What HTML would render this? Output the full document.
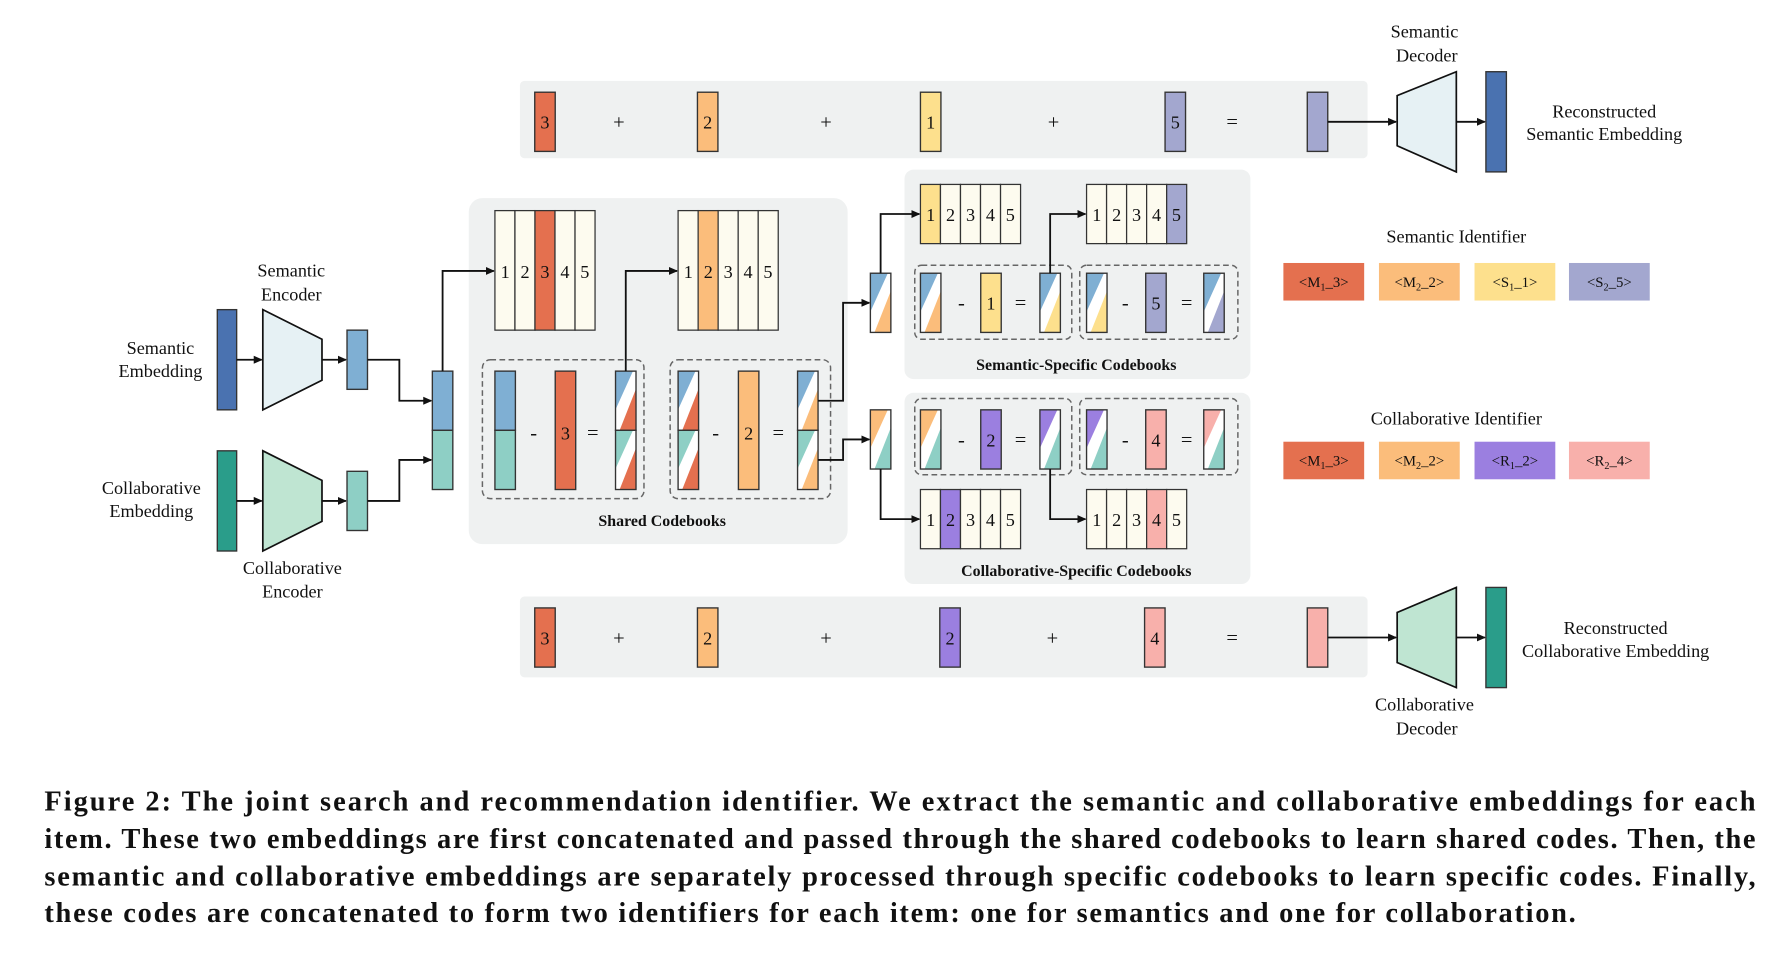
<!DOCTYPE html>
<html><head><meta charset="utf-8"><style>
html,body{margin:0;padding:0;background:#fff;}
svg{display:block;}
text{font-family:"Liberation Serif",serif;fill:#111;}
.l{font-size:16px;text-anchor:middle;}
.n{font-size:16px;text-anchor:middle;}
.b{font-size:14px;font-weight:bold;text-anchor:middle;}
.id{font-size:13px;text-anchor:middle;}
.op{font-size:18px;text-anchor:middle;}
.cap{font-size:25px;font-weight:bold;}
</style></head><body>
<svg id="s" width="1784" height="954" viewBox="0 0 1568 838" preserveAspectRatio="none" xmlns="http://www.w3.org/2000/svg">
<defs><marker id="ar" markerWidth="8" markerHeight="8" refX="7" refY="4" orient="auto" markerUnits="userSpaceOnUse"><path d="M0,0.5 L8,4 L0,7.5 z" fill="#111"/></marker></defs>
<g id="bg">
<rect x="457" y="71" width="745" height="68" rx="4" fill="#eff1f1"/>
<rect x="457" y="524" width="745" height="71" rx="4" fill="#eff1f1"/>
<rect x="412" y="174" width="333" height="304" rx="12" fill="#eff1f1"/>
<rect x="795" y="149" width="304" height="184" rx="8" fill="#eff1f1"/>
<rect x="795" y="345" width="304" height="168" rx="8" fill="#eff1f1"/>
<g fill="none" stroke="#666" stroke-width="1.3" stroke-dasharray="5,3">
<rect x="424" y="316" width="142" height="122" rx="7"/>
<rect x="589" y="316" width="141" height="122" rx="7"/>
<rect x="804" y="233" width="138" height="65" rx="6"/>
<rect x="949" y="233" width="139" height="65" rx="6"/>
<rect x="804" y="350" width="138" height="67" rx="6"/>
<rect x="949" y="350" width="139" height="67" rx="6"/>
</g>
</g>
<g id="g"></g>
<g id="t">
<text class="l" x="141" y="311">Semantic</text><text class="l" x="141" y="331">Embedding</text>
<text class="l" x="256" y="243">Semantic</text><text class="l" x="256" y="264">Encoder</text>
<text class="l" x="133" y="434">Collaborative</text><text class="l" x="133" y="454">Embedding</text>
<text class="l" x="257" y="504">Collaborative</text><text class="l" x="257" y="525">Encoder</text>
<text class="l" x="1252" y="33">Semantic</text><text class="l" x="1254" y="54">Decoder</text>
<text class="l" x="1410" y="103">Reconstructed</text><text class="l" x="1410" y="123">Semantic Embedding</text>
<text class="l" x="1252" y="624">Collaborative</text><text class="l" x="1254" y="645">Decoder</text>
<text class="l" x="1420" y="557">Reconstructed</text><text class="l" x="1420" y="577">Collaborative Embedding</text>
<text class="b" x="582" y="462">Shared Codebooks</text>
<text class="b" x="946" y="325">Semantic-Specific Codebooks</text>
<text class="b" x="946" y="506">Collaborative-Specific Codebooks</text>
<text class="l" x="1280" y="213">Semantic Identifier</text>
<text class="l" x="1280" y="373">Collaborative Identifier</text>
<text class="n" x="479" y="113">3</text><text class="op" x="544" y="113">+</text>
<text class="n" x="622" y="113">2</text><text class="op" x="726" y="113">+</text>
<text class="n" x="818" y="113">1</text><text class="op" x="926" y="113">+</text>
<text class="n" x="1033" y="113">5</text><text class="op" x="1083" y="113">=</text>
<text class="n" x="479" y="566">3</text><text class="op" x="544" y="566">+</text>
<text class="n" x="622" y="566">2</text><text class="op" x="726" y="566">+</text>
<text class="n" x="835" y="566">2</text><text class="op" x="925" y="566">+</text>
<text class="n" x="1015" y="566">4</text><text class="op" x="1083" y="566">=</text>
<text class="n" x="444" y="244">1</text><text class="n" x="461.5" y="244">2</text><text class="n" x="479" y="244">3</text><text class="n" x="496.5" y="244">4</text><text class="n" x="514" y="244">5</text>
<text class="n" x="605" y="244">1</text><text class="n" x="622.5" y="244">2</text><text class="n" x="640" y="244">3</text><text class="n" x="657.5" y="244">4</text><text class="n" x="675" y="244">5</text>
<text class="n" x="818" y="194">1</text><text class="n" x="835.5" y="194">2</text><text class="n" x="853" y="194">3</text><text class="n" x="870.5" y="194">4</text><text class="n" x="888" y="194">5</text>
<text class="n" x="964" y="194">1</text><text class="n" x="981.5" y="194">2</text><text class="n" x="999" y="194">3</text><text class="n" x="1016.5" y="194">4</text><text class="n" x="1034" y="194">5</text>
<text class="n" x="818" y="462">1</text><text class="n" x="835.5" y="462">2</text><text class="n" x="853" y="462">3</text><text class="n" x="870.5" y="462">4</text><text class="n" x="888" y="462">5</text>
<text class="n" x="964" y="462">1</text><text class="n" x="981.5" y="462">2</text><text class="n" x="999" y="462">3</text><text class="n" x="1016.5" y="462">4</text><text class="n" x="1034" y="462">5</text>
<text class="op" x="469" y="386">-</text><text class="n" x="497" y="386">3</text><text class="op" x="521" y="386">=</text>
<text class="op" x="629" y="386">-</text><text class="n" x="658" y="386">2</text><text class="op" x="684" y="386">=</text>
<text class="op" x="845" y="272">-</text><text class="n" x="871" y="272">1</text><text class="op" x="897" y="272">=</text>
<text class="op" x="989" y="272">-</text><text class="n" x="1016" y="272">5</text><text class="op" x="1043" y="272">=</text>
<text class="op" x="845" y="392">-</text><text class="n" x="871" y="392">2</text><text class="op" x="897" y="392">=</text>
<text class="op" x="989" y="392">-</text><text class="n" x="1016" y="392">4</text><text class="op" x="1043" y="392">=</text>
<text class="id" x="1163.5" y="252">&lt;M<tspan font-size="9" dy="3">1</tspan><tspan dy="-3">_3&gt;</tspan></text>
<text class="id" x="1247.5" y="252">&lt;M<tspan font-size="9" dy="3">2</tspan><tspan dy="-3">_2&gt;</tspan></text>
<text class="id" x="1331.5" y="252">&lt;S<tspan font-size="9" dy="3">1</tspan><tspan dy="-3">_1&gt;</tspan></text>
<text class="id" x="1414.5" y="252">&lt;S<tspan font-size="9" dy="3">2</tspan><tspan dy="-3">_5&gt;</tspan></text>
<text class="id" x="1163.5" y="409">&lt;M<tspan font-size="9" dy="3">1</tspan><tspan dy="-3">_3&gt;</tspan></text>
<text class="id" x="1247.5" y="409">&lt;M<tspan font-size="9" dy="3">2</tspan><tspan dy="-3">_2&gt;</tspan></text>
<text class="id" x="1331.5" y="409">&lt;R<tspan font-size="9" dy="3">1</tspan><tspan dy="-3">_2&gt;</tspan></text>
<text class="id" x="1414.5" y="409">&lt;R<tspan font-size="9" dy="3">2</tspan><tspan dy="-3">_4&gt;</tspan></text>
<text class="cap" x="39" y="712" textLength="1504" lengthAdjust="spacing">Figure 2: The joint search and recommendation identifier. We extract the semantic and collaborative embeddings for each</text>
<text class="cap" x="39" y="745" textLength="1504" lengthAdjust="spacing">item. These two embeddings are first concatenated and passed through the shared codebooks to learn shared codes. Then, the</text>
<text class="cap" x="39" y="778" textLength="1504" lengthAdjust="spacing">semantic and collaborative embeddings are separately processed through specific codebooks to learn specific codes. Finally,</text>
<text class="cap" x="39" y="810" textLength="1346" lengthAdjust="spacing">these codes are concatenated to form two identifiers for each item: one for semantics and one for collaboration.</text>
</g>
<script>
(function(){
var NS="http://www.w3.org/2000/svg",g=document.getElementById("g");
function el(n,a,p){var e=document.createElementNS(NS,n);for(var k in a)e.setAttribute(k,a[k]);(p||g).appendChild(e);return e;}
var R="#e4704f",O="#fbbd7b",Y="#fde08d",L="#a3a7cf",P="#9b7fe0",K="#f8b0ab",B="#7fafd3",T="#8ecfc5",DB="#4a72b0",DT="#2a9d8a",C="#fdfbef";
function bar(x,y,w,h,f){el("rect",{x:x,y:y,width:w,height:h,fill:f,stroke:"#333","stroke-width":1.2});}
function stripe(x,y,w,h,c1,c2){
 el("rect",{x:x,y:y,width:w,height:h,fill:"#fff"});
 el("polygon",{points:[x,y,x+w*0.85,y,x,y+h*0.65].join(","),fill:c1});
 el("polygon",{points:[x+w,y+h*0.3,x+w,y+h,x+w*0.2,y+h].join(","),fill:c2});
 el("rect",{x:x,y:y,width:w,height:h,fill:"none",stroke:"#333","stroke-width":1.2});}
function cb(x,y,h,hi,c){for(var i=0;i<5;i++)el("rect",{x:x+i*17.6,y:y,width:17.6,height:h,fill:i==hi?c:C,stroke:"#333","stroke-width":1.1});}
function line(pts,arrow){var a={points:pts.join(","),fill:"none",stroke:"#111","stroke-width":1.6};if(arrow)a["marker-end"]="url(#ar)";el("polyline",a);}
bar(470,81,18,52,R);bar(613,81,18,52,O);bar(809,81,18,52,Y);bar(1024,81,18,52,L);bar(1149,81,18,52,L);
bar(470,534,18,52,R);bar(613,534,18,52,O);bar(826,534,18,52,P);bar(1006,534,18,52,K);bar(1149,534,18,52,K);
el("polygon",{points:"1228,84 1280,63 1280,151 1228,128",fill:"#e6f1f4",stroke:"#111","stroke-width":1.5});
el("polygon",{points:"1228,538 1280,516 1280,604 1228,582",fill:"#bfe5d2",stroke:"#111","stroke-width":1.5});
bar(1306,63,18,88,DB);bar(1306,516,18,88,DT);
line([1167,107,1227,107],1);line([1280,107,1305,107],1);
line([1167,560,1227,560],1);line([1280,560,1305,560],1);
bar(191,272,17,88,DB);bar(191,396,17,88,DT);
el("polygon",{points:"231,272 283,298 283,334 231,360",fill:"#e6f1f4",stroke:"#111","stroke-width":1.5});
el("polygon",{points:"231,396 283,422 283,458 231,484",fill:"#bfe5d2",stroke:"#111","stroke-width":1.5});
line([208,316,230,316],1);line([283,316,304,316],1);
line([208,440,230,440],1);line([283,440,304,440],1);
bar(305,290,18,52,B);bar(305,414,18,52,T);
line([323,316,351,316,351,352,379,352],1);
line([323,440,351,440,351,404,379,404],1);
bar(380,326,18,52,B);bar(380,378,18,52,T);
line([389,326,389,238,434,238],1);
cb(435,185,105,2,R);cb(596,185,105,1,O);
bar(435,326,18,52,B);bar(435,378,18,52,T);
bar(488,326,18,104,R);
stripe(541,326,18,52,B,R);stripe(541,378,18,52,T,R);
line([550,326,550,238,595,238],1);
stripe(596,326,18,52,B,R);stripe(596,378,18,52,T,R);
bar(649,326,18,104,O);
stripe(701,326,18,52,B,O);stripe(701,378,18,52,T,O);
line([719,352,741,352,741,266,764,266],1);
line([719,404,741,404,741,386,764,386],1);
stripe(765,240,18,52,B,O);stripe(765,360,18,52,O,T);
line([774,240,774,188,808,188],1);
cb(809,162,52,0,Y);cb(955,162,52,4,L);
stripe(809,240,18,52,B,O);bar(862,240,18,52,Y);stripe(914,240,18,52,B,Y);
line([923,240,923,188,954,188],1);
stripe(955,240,18,52,B,Y);bar(1007,240,18,52,L);stripe(1058,240,18,52,B,L);
stripe(809,360,18,52,O,T);bar(862,360,18,52,P);stripe(914,360,18,52,P,T);
stripe(955,360,18,52,P,T);bar(1007,360,18,52,K);stripe(1058,360,18,52,K,T);
line([774,412,774,456,808,456],1);
line([923,412,923,456,954,456],1);
cb(809,430,52,1,P);cb(955,430,52,3,K);
var xs=[1128,1212,1296,1379],c1=[R,O,Y,L],c2=[R,O,P,K];
for(var i=0;i<4;i++){el("rect",{x:xs[i],y:231,width:71,height:33,fill:c1[i]});el("rect",{x:xs[i],y:388,width:71,height:33,fill:c2[i]});}
})();
</script>
</svg>
</body></html>
